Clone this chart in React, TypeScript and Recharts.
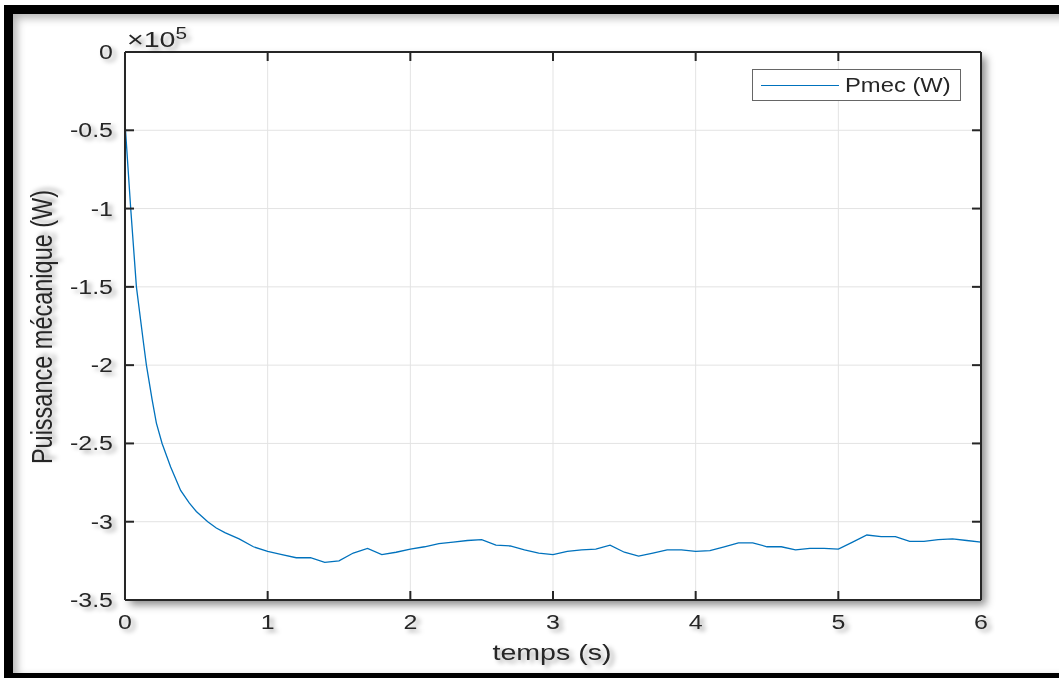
import { LineChart, Line, XAxis, YAxis, CartesianGrid, Legend } from 'recharts';

// Mechanical power of the machine, in units of 1e5 W
const TIME = [
  0, 0.04, 0.08, 0.13, 0.15, 0.19, 0.22, 0.26, 0.32, 0.39, 0.45, 0.5, 0.58, 0.64, 0.7, 0.8, 0.9,
  1.0, 1.1, 1.2, 1.3, 1.4, 1.5, 1.6, 1.7, 1.8, 1.9,
  2.0, 2.1, 2.2, 2.3, 2.4, 2.5, 2.6, 2.7, 2.8, 2.9,
  3.0, 3.1, 3.2, 3.3, 3.4, 3.5, 3.6, 3.7, 3.8, 3.9,
  4.0, 4.1, 4.2, 4.3, 4.4, 4.5, 4.6, 4.7, 4.8, 4.9,
  5.0, 5.1, 5.2, 5.3, 5.4, 5.5, 5.6, 5.7, 5.8, 5.9, 6.0,
];
const PMEC = [
  -0.45, -1.0, -1.5, -1.86, -2.0, -2.22, -2.37, -2.5, -2.65, -2.8, -2.88, -2.935, -3.0, -3.04, -3.07, -3.11, -3.16,
  -3.19, -3.21, -3.23, -3.23, -3.26, -3.25, -3.2, -3.17, -3.21, -3.195,
  -3.175, -3.16, -3.14, -3.13, -3.12, -3.115, -3.15, -3.155, -3.18, -3.2,
  -3.21, -3.19, -3.18, -3.175, -3.15, -3.195, -3.22, -3.2, -3.18, -3.18,
  -3.19, -3.185, -3.16, -3.135, -3.135, -3.16, -3.16, -3.18, -3.17, -3.17,
  -3.175, -3.13, -3.085, -3.095, -3.095, -3.125, -3.125, -3.115, -3.11, -3.12, -3.13,
];
const X_TICKS = [0, 1, 2, 3, 4, 5, 6];
const Y_TICKS = [-3.5, -3, -2.5, -2, -1.5, -1, -0.5, 0];
const SERIES_NAME = 'Pmec (W)';

const data = TIME.map((t, i) => ({ t, pmec: PMEC[i] }));

const INK = '#262626';
const BLUE = '#0072BD';
const FONT = '"Liberation Sans", Arial, Helvetica, sans-serif';

function XTick({ x, y, payload }: any) {
  return (
    <text transform={`translate(${x},${y}) scale(1.28,1)`} textAnchor="middle" dy="0.36em"
      fontSize={19.5} fill={INK} fontFamily={FONT} filter="url(#txtShadow)">
      {payload.value}
    </text>
  );
}

function YTick({ x, y, payload }: any) {
  return (
    <text transform={`translate(${x},${y}) scale(1.28,1)`} textAnchor="end" dy="0.36em"
      fontSize={19.5} fill={INK} fontFamily={FONT} filter="url(#txtShadow)">
      {payload.value}
    </text>
  );
}

// box axes keep their tick marks but carry no labels
function NoLabel() {
  return null;
}

function LegendBox({ payload }: any) {
  const items = (payload || []).filter((p: any) => p.value === SERIES_NAME);
  return (
    <div style={{ display: 'flex', alignItems: 'center', height: 30, background: 'white', border: '1px solid #666', fontFamily: FONT }}>
      {items.map((p: any) => (
        <div key={p.value} style={{ display: 'flex', alignItems: 'center', whiteSpace: 'nowrap' }}>
          <span style={{ marginLeft: 8, width: 78, height: 0, borderTop: `1.3px solid ${p.color}` }} />
          <span style={{ marginLeft: 6, fontSize: 19.5, color: INK, display: 'inline-block', transform: 'scale(1.22,1)', transformOrigin: 'left center' }}>
            {p.value}
          </span>
        </div>
      ))}
    </div>
  );
}

const axisStroke = { stroke: INK, strokeWidth: 2 };

export default function App() {
  return (
    <div style={{ position: 'fixed', left: 0, top: 0, width: 1059, height: 678, overflow: 'hidden', background: 'white' }}>
      {/* figure frame */}
      <div style={{
        position: 'absolute', left: 4, top: 5, width: 1120, height: 677, boxSizing: 'border-box',
        borderLeft: '9px solid #000', borderTop: '9px solid #000', borderBottom: '9px solid #000',
        background: 'white', boxShadow: 'inset 4px 4px 8px rgba(0,0,0,0.3)',
      }} />
      {/* axes box shadow */}
      <div style={{ position: 'absolute', left: 125, top: 52, width: 856, height: 548, background: 'white', boxShadow: '5px 5px 8px rgba(0,0,0,0.45)' }} />
      <div style={{ position: 'absolute', left: 0, top: 0 }}>
        <LineChart width={1059} height={678} data={data} margin={{ top: 22, right: 48, bottom: 38, left: 65 }}>
          <defs>
            <filter id="txtShadow" x="-30%" y="-50%" width="180%" height="220%">
              <feDropShadow dx="3" dy="3" stdDeviation="2" floodColor="#000" floodOpacity="0.35" />
            </filter>
          </defs>
          <CartesianGrid stroke="#e3e3e3" strokeWidth={1} />
          <XAxis dataKey="t" type="number" domain={[0, 6]} ticks={X_TICKS} height={40}
            axisLine={axisStroke} tickLine={axisStroke}
            tickSize={-9} tickMargin={31} tick={<XTick />} interval={0} />
          <XAxis xAxisId="top" dataKey="t" orientation="top" type="number" domain={[0, 6]} ticks={X_TICKS} height={30}
            axisLine={axisStroke} tickLine={axisStroke}
            tickSize={-9} tick={<NoLabel />} interval={0} />
          <YAxis type="number" domain={[-3.5, 0]} ticks={Y_TICKS} width={60}
            axisLine={axisStroke} tickLine={axisStroke}
            tickSize={-9} tickMargin={21} tick={<YTick />} interval={0} />
          <YAxis yAxisId="right" orientation="right" type="number" domain={[-3.5, 0]} ticks={Y_TICKS} width={30}
            axisLine={axisStroke} tickLine={axisStroke}
            tickSize={-9} tick={<NoLabel />} interval={0} />
          <Legend content={<LegendBox />} layout="horizontal" verticalAlign="middle" align="center"
            wrapperStyle={{ left: 752, top: 69, width: 209 }} />
          <Line dataKey="pmec" name={SERIES_NAME} type="linear" stroke={BLUE} strokeWidth={1.3}
            dot={false} activeDot={false} isAnimationActive={false} />
          {/* unstroked copy tied to the top/right box axes so they get a scale */}
          <Line dataKey="pmec" name="box" xAxisId="top" yAxisId="right" type="linear" stroke="none"
            dot={false} activeDot={false} legendType="none" isAnimationActive={false} />
          <text fontSize={22} fill={INK} fontFamily={FONT} filter="url(#txtShadow)"
            transform="translate(127,47) scale(1.3,1)">
            ×10<tspan dy={-8} fontSize={16}>5</tspan>
          </text>
          <text transform="translate(552,660) scale(1.3,1)" textAnchor="middle" fontSize={22}
            fill={INK} fontFamily={FONT} filter="url(#txtShadow)">
            temps (s)
          </text>
          <text transform="translate(52,327) scale(1.25,1) rotate(-90)" textAnchor="middle" fontSize={23.5}
            fill={INK} fontFamily={FONT} filter="url(#txtShadow)">
            Puissance mécanique (W)
          </text>
        </LineChart>
      </div>
    </div>
  );
}
